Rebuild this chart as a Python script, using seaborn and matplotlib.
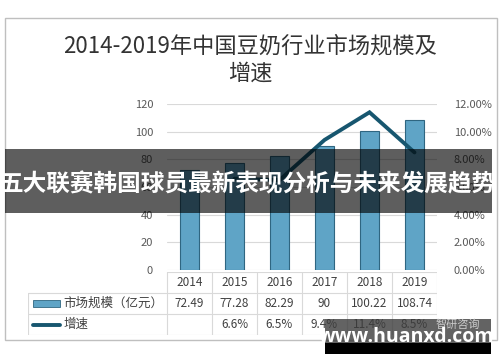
import numpy as np
import pandas as pd
import matplotlib
matplotlib.use("Agg")
import matplotlib.pyplot as plt
import seaborn as sns
from matplotlib.patches import Rectangle
from matplotlib.lines import Line2D

# ====================== 数据 ======================
years = ["2014", "2015", "2016", "2017", "2018", "2019"]
market_size = [72.49, 77.28, 82.29, 90, 100.22, 108.74]
growth = [None, 6.6, 6.5, 9.4, 11.4, 8.5]
size_labels = ["72.49", "77.28", "82.29", "90", "100.22", "108.74"]
growth_labels = ["", "6.6%", "6.5%", "9.4%", "11.4%", "8.5%"]
left_ticks = [0, 20, 40, 60, 80, 100, 120]
right_ticks = [0, 2, 4, 6, 8, 10, 12]

sns.set_theme(style="white")
plt.rcParams['font.family'] = ['Noto Sans CJK SC', 'DejaVu Sans']
plt.rcParams['axes.unicode_minus'] = False

W, H = 500, 362
fig = plt.figure(figsize=(W / 100, H / 100), dpi=100)

def fx(px):
    return px / W

def fy(py):
    return 1 - py / H

# 外框
fig.patches.append(Rectangle((fx(5), fy(340)), fx(492) - fx(0), fy(18) - fy(340),
                             transform=fig.transFigure, fill=False,
                             edgecolor="#bfbfbf", linewidth=1))

# 标题
fig.text(0.5, fy(46), "2014-2019年中国豆奶行业市场规模及", ha="center", va="center",
         fontsize=16, color="#333333", fontweight="medium")
fig.text(0.5, fy(73), "增速", ha="center", va="center", fontsize=16, color="#333333",
         fontweight="medium")

# ====================== 主图 ======================
ax = fig.add_axes([fx(167), fy(270), fx(437) - fx(167), fy(104) - fy(270)])
df = pd.DataFrame({"year": years, "size": market_size})
sns.barplot(data=df, x="year", y="size", ax=ax, color="#5fa4c6", width=0.42,
            edgecolor="#2f6681", linewidth=0.8, saturation=1)
ax.set_ylim(0, 120)
ax.set_xlim(-0.5, 5.5)
ax.set_yticks(left_ticks)
ax.set_yticklabels([str(t) for t in left_ticks], fontsize=8, color="#595959")
ax.set_xticks([])
ax.set_xlabel("")
ax.set_ylabel("")
ax.tick_params(axis="y", length=0, pad=10)
for s in ax.spines.values():
    s.set_visible(False)
ax.grid(axis="y", color="#d9d9d9", linewidth=0.8)
ax.set_axisbelow(True)

ax2 = ax.twinx()
gx = [i for i, g in enumerate(growth) if g is not None]
gy = [g for g in growth if g is not None]
ax2.plot(gx, gy, color="#17566f", linewidth=2.8, solid_joinstyle="miter")
ax2.set_ylim(0, 12)
ax2.set_yticks(right_ticks)
ax2.set_yticklabels([f"{t:.2f}%" for t in right_ticks], fontsize=8, color="#595959")
ax2.tick_params(axis="y", length=0, pad=12)
for s in ax2.spines.values():
    s.set_visible(False)

# ====================== 数据表 ======================
lab_w = (167 - 28) / 45
tab = fig.add_axes([fx(28), fy(335), fx(437) - fx(28), fy(272) - fy(335)])
tab.set_xlim(-0.5 - lab_w, 5.5)
tab.set_ylim(3, 0)
tab.axis("off")
lc = "#d9d9d9"
# 横线
tab.plot([-0.5, 5.5], [0, 0], color=lc, lw=0.8)
for yy in [1, 2, 3]:
    tab.plot([-0.5 - lab_w, 5.5], [yy, yy], color=lc, lw=0.8)
# 竖线
for xx in np.arange(-0.5, 6.0, 1.0):
    tab.plot([xx, xx], [0, 3], color=lc, lw=0.8)
tab.plot([-0.5 - lab_w] * 2, [1, 3], color=lc, lw=0.8)

for i, y in enumerate(years):
    tab.text(i, 0.5, y, ha="center", va="center", fontsize=8.5, color="#404040")
    tab.text(i, 1.5, size_labels[i], ha="center", va="center", fontsize=8.5, color="#404040")
    tab.text(i, 2.5, growth_labels[i], ha="center", va="center", fontsize=8.5, color="#404040")

x0 = -0.5 - lab_w + 0.1
tab.add_patch(Rectangle((x0, 1.35), 0.62, 0.32, facecolor="#5fa4c6",
                        edgecolor="#2f6681", lw=0.6))
tab.add_line(Line2D([x0, x0 + 0.62], [2.5, 2.5], color="#17566f", lw=2.8))
tab.text(x0 + 0.68, 1.5, "市场规模（亿元）", ha="left", va="center", fontsize=9, color="#404040")
tab.text(x0 + 0.68, 2.5, "增速", ha="left", va="center", fontsize=9, color="#404040")

# ====================== 横幅与水印 ======================
fig.patches.append(Rectangle((fx(5), fy(213)), fx(492) - fx(5), fy(149) - fy(213),
                             transform=fig.transFigure, facecolor="black", alpha=0.63,
                             edgecolor="none"))
fig.text(fx(248), fy(184), "五大联赛韩国球员最新表现分析与未来发展趋势", ha="center",
         va="center", fontsize=17, color="white", fontweight="bold")

fig.text(fx(458), fy(325), "智研咨询", ha="center", va="center", fontsize=8, color="#cccccc")
fig.patches.append(Rectangle((fx(325), fy(343)), fx(491) - fx(325), fy(319) - fy(343),
                             transform=fig.transFigure, facecolor="#3c3c3c", alpha=0.8,
                             edgecolor="none"))
fig.patches.append(Rectangle((fx(325), fy(354)), fx(491) - fx(325), fy(343) - fy(354),
                             transform=fig.transFigure, facecolor="black", edgecolor="none"))
fig.text(fx(407), fy(337), "www.huanxd.com", ha="center", va="center", fontsize=14,
         color="white", fontweight="bold", family=["Open Sans", "DejaVu Sans"])

fig.savefig("out.png", dpi=100)
